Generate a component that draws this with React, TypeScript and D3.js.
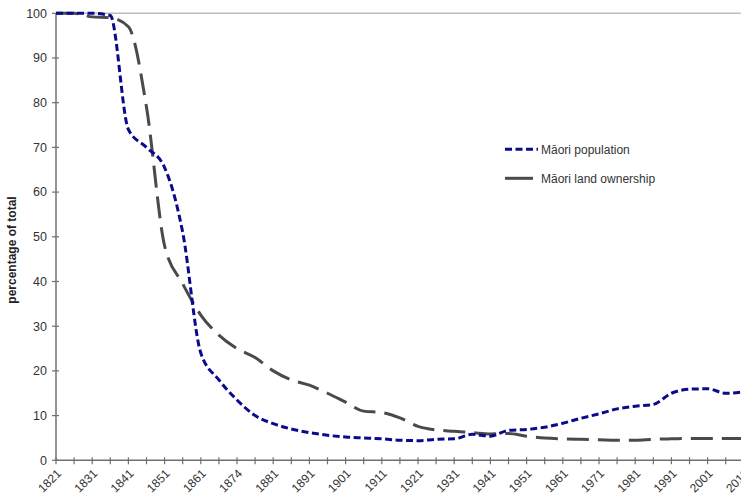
import React, {useEffect, useRef} from 'react';
import * as d3 from 'd3';

// category years (labels shown on every second one)
const years = [
  '1821', '1826', '1831', '1836', '1841', '1846', '1851', '1856', '1861', '1867',
  '1874', '1878', '1881', '1886', '1891', '1896', '1901', '1906', '1911', '1916',
  '1921', '1926', '1931', '1936', '1941', '1945', '1951', '1956', '1961', '1966',
  '1971', '1976', '1981', '1986', '1991', '1996', '2001', '2006', '2012'
];

const population = [
  100, 100, 100, 99.5, 74, 70, 65.5, 51, 24, 18,
  13.5, 10, 8.2, 7, 6.2, 5.6, 5.2, 5.0, 4.8, 4.5,
  4.4, 4.7, 4.8, 5.8, 5.4, 6.7, 6.9, 7.4, 8.3, 9.4,
  10.4, 11.5, 12.1, 12.5, 15.0, 15.9, 16.0, 15.0, 15.3
];

const landOwnership = [
  100, 100, 99.2, 99, 97, 79, 48, 39.5, 32.5, 28,
  25, 23, 20, 18, 16.8, 15, 13, 11, 10.7, 9.5,
  7.6, 6.8, 6.5, 6.2, 5.9, 6.0, 5.4, 5.0, 4.8, 4.7,
  4.6, 4.5, 4.5, 4.7, 4.8, 4.9, 4.9, 4.9, 4.9
];

const yTicks = [0, 10, 20, 30, 40, 50, 60, 70, 80, 90, 100];

const seriesNames = ['Māori population', 'Māori land ownership'];

export default function App() {
  const ref = useRef<SVGSVGElement>(null);

  useEffect(() => {
    const width = 741;
    const svg = d3.select(ref.current);
    svg.selectAll('*').remove();

    const left = 56;
    const step = 18.1;
    const x = d3.scalePoint<string>()
        .domain(years)
        .range([left, left + step * (years.length - 1)]);

    const y = d3.scaleLinear()
        .domain([0, 100])
        .range([460.3, 13.3]);

    const font = 'Liberation Sans, Arial, sans-serif';

    // top gridline at 100
    svg.append('line')
        .attr('x1', left).attr('x2', width)
        .attr('y1', y(100)).attr('y2', y(100))
        .attr('stroke', '#bdbdbd')
        .attr('stroke-width', 1.5);

    // y axis
    const yAxis = svg.append('g');
    yAxis.append('line')
        .attr('x1', left).attr('x2', left)
        .attr('y1', y(0)).attr('y2', y(100))
        .attr('stroke', '#707070').attr('stroke-width', 1.5);
    yAxis.selectAll('.ytick')
        .data(yTicks)
        .enter().append('line')
        .attr('x1', left - 4).attr('x2', left + 3)
        .attr('y1', d => y(d)).attr('y2', d => y(d))
        .attr('stroke', '#707070').attr('stroke-width', 1.2);
    yAxis.selectAll('.ylabel')
        .data(yTicks)
        .enter().append('text')
        .attr('x', 47)
        .attr('y', d => y(d))
        .attr('dy', '0.35em')
        .attr('text-anchor', 'end')
        .style('font-family', font)
        .style('font-size', '12.5px')
        .attr('fill', '#333')
        .text(d => d);

    // x axis
    const xAxis = svg.append('g');
    xAxis.append('line')
        .attr('x1', left).attr('x2', width)
        .attr('y1', y(0)).attr('y2', y(0))
        .attr('stroke', '#707070').attr('stroke-width', 1.5);
    xAxis.selectAll('.xtick')
        .data(years)
        .enter().append('line')
        .attr('x1', d => x(d)!).attr('x2', d => x(d)!)
        .attr('y1', y(0) - 3).attr('y2', y(0) + 4)
        .attr('stroke', '#707070').attr('stroke-width', 1.2);
    xAxis.selectAll('.xlabel')
        .data(years.filter((d, i) => i % 2 === 0))
        .enter().append('text')
        .attr('transform', d => `translate(${x(d)! + 3},${y(0) + 11}) rotate(-45)`)
        .attr('text-anchor', 'end')
        .attr('dy', '0.35em')
        .style('font-family', font)
        .style('font-size', '12px')
        .attr('fill', '#333')
        .text(d => d);

    // y title
    svg.append('text')
        .attr('transform', `translate(16,250) rotate(-90)`)
        .attr('text-anchor', 'middle')
        .style('font-family', font)
        .style('font-size', '12px')
        .style('font-weight', 'bold')
        .attr('fill', '#222')
        .text('percentage of total');

    const line = d3.line<number>()
        .x((d, i) => x(years[i])!)
        .y(d => y(d))
        .curve(d3.curveMonotoneX);

    svg.append('path')
        .datum(landOwnership)
        .attr('d', line)
        .attr('fill', 'none')
        .attr('stroke', '#4a4a4a')
        .attr('stroke-width', 3)
        .attr('stroke-dasharray', '22 9');

    svg.append('path')
        .datum(population)
        .attr('d', line)
        .attr('fill', 'none')
        .attr('stroke', '#0a0a8c')
        .attr('stroke-width', 3)
        .attr('stroke-dasharray', '7 3.5');

    // legend
    const legend = svg.append('g');
    const styles = [
      {color: '#0a0a8c', dash: '7 3.5', y: 149.3, x2: 538},
      {color: '#4a4a4a', dash: 'none', y: 178.3, x2: 533}
    ];
    seriesNames.forEach((name, i) => {
      legend.append('line')
          .attr('x1', 505).attr('x2', styles[i].x2)
          .attr('y1', styles[i].y).attr('y2', styles[i].y)
          .attr('stroke', styles[i].color)
          .attr('stroke-width', 3)
          .attr('stroke-dasharray', styles[i].dash);
      legend.append('text')
          .attr('x', 541)
          .attr('y', styles[i].y)
          .attr('dy', '0.35em')
          .style('font-family', font)
          .style('font-size', '12px')
          .attr('fill', '#333')
          .text(name);
    });
  }, []);

  return (
    <div style={{position: 'absolute', left: 0, top: 0}}>
      <svg ref={ref} width={741} height={499} style={{display: 'block', background: '#fff'}}></svg>
    </div>
  );
}
